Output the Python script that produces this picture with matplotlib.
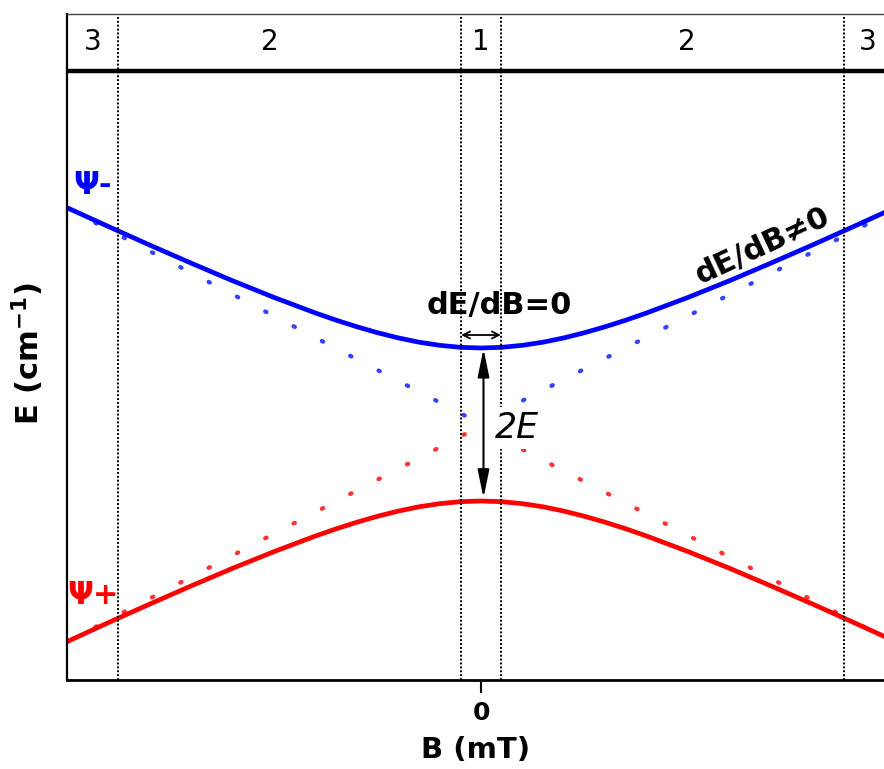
import numpy as np
import matplotlib
matplotlib.use("Agg")
import matplotlib.pyplot as plt
from matplotlib.patches import FancyArrowPatch

plt.rcParams["font.family"] = ["DejaVu Sans"]
plt.rcParams["lines.scale_dashes"] = False

# ----- Data -----
b_curve = [-1.0, -0.9, -0.8, -0.7, -0.6, -0.5, -0.4, -0.35, -0.3, -0.25, -0.2,
           -0.15, -0.1, -0.05, 0.0, 0.05, 0.1, 0.15, 0.2, 0.25, 0.3, 0.35,
           0.4, 0.5, 0.6, 0.7, 0.8, 0.9, 0.98]
e_upper = [2.834, 2.588, 2.345, 2.109, 1.879, 1.661, 1.458, 1.364, 1.278, 1.200,
           1.132, 1.076, 1.035, 1.009, 1.000, 1.009, 1.035, 1.076, 1.132, 1.200,
           1.278, 1.364, 1.458, 1.661, 1.879, 2.109, 2.345, 2.588, 2.785]
e_lower = [-2.839, -2.590, -2.347, -2.110, -1.880, -1.662, -1.458, -1.364, -1.278,
           -1.200, -1.132, -1.076, -1.035, -1.009, -1.000, -1.009, -1.035, -1.076,
           -1.132, -1.200, -1.278, -1.364, -1.458, -1.661, -1.879, -2.109, -2.345,
           -2.588, -2.785]

# crossing (zero-coupling) levels, as left and right branches
b_asym_left = [-1.0, -0.005]
b_asym_right = [-0.005, 0.98]
e_asym_blue_left = [2.83, 0.02]
e_asym_blue_right = [0.02, 2.75]
e_asym_red_left = [-2.84, -0.03]
e_asym_red_right = [-0.03, -2.80]

# region boundaries and labels in the top band
region_edges = [-0.877, -0.048, 0.048, 0.876]
region_labels = ["3", "2", "1", "2", "3"]
region_label_b = [-0.937, -0.51, 0.0, 0.497, 0.935]

# ----- Plot -----
fig = plt.figure(figsize=(8.84, 7.69), dpi=100)
ax = fig.add_axes([67 / 884, 89 / 769, 1 - 67 / 884, 666 / 769])
ax.set_xlim(-1.0, 0.9734)
ax.set_ylim(-3.34, 5.366)

# dotted crossing levels
dot_style = (0, (1.0, 22.0))
dot_style_r = (10.3, (1.0, 22.0))
for bb, ee, ls in [(b_asym_left, e_asym_blue_left, dot_style),
                   (b_asym_right, e_asym_blue_right, dot_style_r)]:
    ax.plot(bb, ee, color="#3344ff", lw=3.1, linestyle=ls,
            dash_capstyle="round")
for bb, ee, ls in [(b_asym_left, e_asym_red_left, dot_style),
                   (b_asym_right, e_asym_red_right, dot_style_r)]:
    ax.plot(bb, ee, color="#ff3333", lw=3.1, linestyle=ls,
            dash_capstyle="round")

# anti-crossing levels
ax.plot(b_curve, e_upper, color="#0000ff", lw=3.4, solid_capstyle="butt")
ax.plot(b_curve, e_lower, color="#ff0000", lw=3.4, solid_capstyle="butt")

# region separators
for b in region_edges:
    ax.axvline(b, color="black", lw=1.4, linestyle=(0, (1.4, 1.4)))
ax.axhline(4.625, color="black", lw=3.2)
for lab, b in zip(region_labels, region_label_b):
    ax.text(b, 5.0, lab, fontsize=20, ha="center", va="center")

# annotations
ax.text(-0.938, 3.13, "Ψ-", color="#0000ff", fontsize=22, fontweight="bold",
        ha="center", va="center")
ax.text(-0.937, -2.24, "Ψ+", color="#ff0000", fontsize=22, fontweight="bold",
        ha="center", va="center")
ax.text(0.0435, 1.56, "dE/dB=0", fontsize=22, fontweight="bold",
        ha="center", va="center")
ax.text(0.681, 2.333, "dE/dB≠0", fontsize=22, fontweight="bold",
        ha="center", va="center", rotation=25, rotation_mode="anchor")
ax.text(0.087, -0.046, "2E", fontsize=25, style="italic", ha="center", va="center",
        bbox=dict(boxstyle="square,pad=0.12", fc="white", ec="none"), zorder=5)

ax.add_patch(FancyArrowPatch((0.006, 0.99), (0.006, -0.96),
                             arrowstyle="<|-|>,head_length=17,head_width=3.5",
                             mutation_scale=1, lw=1.5, color="black",
                             shrinkA=0, shrinkB=0, zorder=6))
ax.add_patch(FancyArrowPatch((-0.048, 1.17), (0.048, 1.17),
                             arrowstyle="<->,head_length=5,head_width=2.5",
                             mutation_scale=1, lw=1.3, color="black",
                             shrinkA=0, shrinkB=0, zorder=6))

# axes styling
ax.spines["right"].set_visible(False)
ax.spines["left"].set_linewidth(1.6)
ax.spines["bottom"].set_linewidth(2.0)
ax.spines["top"].set_linewidth(1.0)
ax.spines["top"].set_color("#444444")
ax.set_yticks([])
ax.set_xticks([0])
ax.set_xticklabels(["0"], fontsize=18, fontweight="bold")
ax.tick_params(axis="x", length=9, width=1.5, pad=6)
ax.set_xlabel("B (mT)", fontsize=21, fontweight="bold", labelpad=8)
ax.set_ylabel(r"E (cm$^{\mathbf{-1}}$)", fontsize=22, fontweight="bold")
ax.yaxis.set_label_coords(-0.026, 0.49)

fig.savefig("out.png", dpi=100)
